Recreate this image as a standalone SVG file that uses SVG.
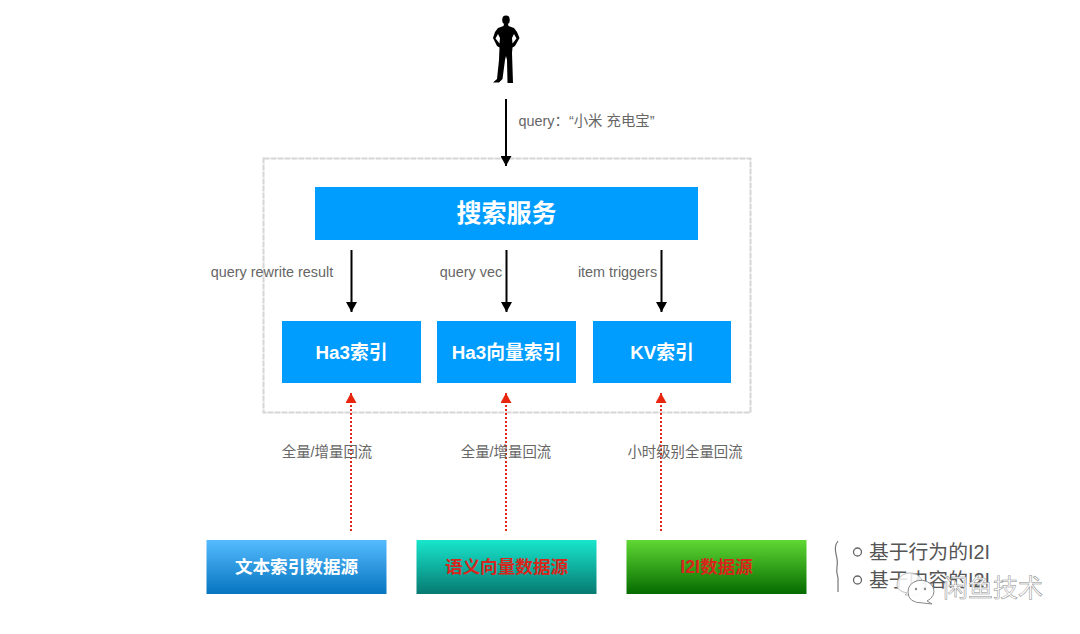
<svg xmlns="http://www.w3.org/2000/svg" width="1080" height="634" viewBox="0 0 1080 634">
<style>
text{font-family:"Liberation Sans","Noto Sans CJK SC",sans-serif;text-anchor:middle}
.lbl{font-size:14.4px;fill:#666}
.blue{fill:#009dff}
.h{font-size:18.8px;font-weight:bold;fill:#fff}
.s{font-size:17.6px;font-weight:bold}
.k{stroke:#000;stroke-width:2;fill:none;marker-end:url(#ka)}
.r{stroke:#e0281a;stroke-width:2;stroke-dasharray:2 2;fill:none;marker-end:url(#ra)}
.li{font-size:19.8px;fill:#555;text-anchor:start}
.wm{font-size:25px;fill:#fff;stroke:#8a8a8a;stroke-width:.5;text-anchor:start}
</style>
<defs>
<marker id="ka" markerUnits="userSpaceOnUse" markerWidth="11" markerHeight="11" refX="10" refY="5.500" orient="auto"><path d="M0 0L10 5.500L0 11Z" fill="#000"/></marker>
<marker id="ra" markerUnits="userSpaceOnUse" markerWidth="11" markerHeight="11" refX="10" refY="5.500" orient="auto"><path d="M0 0L10 5.500L0 11Z" fill="#e8260f"/></marker>
<linearGradient id="g1" x1="0" y1="0" x2="0" y2="1"><stop offset="0" stop-color="#55bbff"/><stop offset="1" stop-color="#0675bf"/></linearGradient>
<linearGradient id="g2" x1="0" y1="0" x2="0" y2="1"><stop offset="0" stop-color="#18e6cc"/><stop offset="1" stop-color="#077a72"/></linearGradient>
<linearGradient id="g3" x1="0" y1="0" x2="0" y2="1"><stop offset="0" stop-color="#60d834"/><stop offset="1" stop-color="#056b00"/></linearGradient>
</defs>
<g id="person" fill="#000">
<ellipse cx="506" cy="20" rx="3.800" ry="4.400"/>
<path fill-rule="evenodd" d="M504 24L508 24L508.500 26L514 28L517 32L519.500 38L515 46L512.500 47.500L512 53L513 83L507.500 83L507 60L506 56L505 60L502.500 79L499 82.500L493 82.500L497 79L499 60L499.500 47.500L497 46L493 38L495 32L498 28L503.500 26ZM498 34L495.500 38.500L499.500 43.500L500 38ZM514 34L516.500 38.500L512.500 43.500L512 38Z"/>
</g>
<g id="container"><rect x="263.500" y="158.500" width="487" height="254" fill="#fff" stroke="#d6d6d6" stroke-width="2" stroke-dasharray="6 1"/></g>
<g id="search"><rect class="blue" x="315" y="187" width="383" height="53"/><text x="506.500" y="222" font-size="25" font-weight="bold" fill="#fff">搜索服务</text></g>
<g id="ha3"><rect class="blue" x="282" y="321" width="139" height="62"/><text class="h" x="351.500" y="359">Ha3索引</text></g>
<g id="ha3vec"><rect class="blue" x="437" y="321" width="139" height="62"/><text class="h" x="506.500" y="359">Ha3向量索引</text></g>
<g id="kv"><rect class="blue" x="593" y="321" width="138" height="62"/><text class="h" x="662" y="359">KV索引</text></g>
<g id="src1"><rect x="206.500" y="540" width="180" height="54" fill="url(#g1)"/><text class="s" x="296.500" y="572.500" fill="#fff">文本索引数据源</text></g>
<g id="src2"><rect x="416.500" y="540" width="180" height="54" fill="url(#g2)"/><text class="s" x="506.500" y="572.500" fill="#d8261c">语义向量数据源</text></g>
<g id="src3"><rect x="626.500" y="540" width="180" height="54" fill="url(#g3)"/><text class="s" x="716.500" y="572.500" fill="#d8261c">I2I数据源</text></g>
<g id="connectors">
<path class="k" d="M506 99V166"/>
<path class="k" d="M351.500 250V312"/>
<path class="k" d="M506.500 250V312"/>
<path class="k" d="M661.500 250V312"/>
<path class="r" d="M351 531V393"/>
<path class="r" d="M506 531V393"/>
<path class="r" d="M661 531V393"/>
</g>
<g id="labels">
<text class="lbl" x="586.500" y="126">query：“小米 充电宝”</text>
<text class="lbl" x="272" y="277">query rewrite result</text>
<text class="lbl" x="471" y="277">query vec</text>
<text class="lbl" x="617.500" y="277">item triggers</text>
<text class="lbl" x="327" y="457">全量/增量回流</text>
<text class="lbl" x="506" y="457">全量/增量回流</text>
<text class="lbl" x="685" y="457">小时级别全量回流</text>
</g>
<g id="notes">
<path d="M838 541Q834 546 836 554Q838 562 837 566Q836 572 838 578Q838 588 838 592" fill="none" stroke="#777" stroke-width="1.200"/>
<circle cx="857.500" cy="552" r="4" fill="none" stroke="#666" stroke-width="1.300"/>
<circle cx="857.500" cy="580" r="4" fill="none" stroke="#666" stroke-width="1.300"/>
<text class="li" x="869" y="559">基于行为的I2I</text>
<text class="li" x="869" y="587">基于内容的I2I</text>
</g>
<g id="watermark">
<path d="M897 585a13 12 0 1 1 20 10l-3 0-9 0 2-2q-10-2-10-8Z" fill="#fff" fill-opacity=".85" stroke="#aaa" stroke-width=".8"/>
<path d="M908 592a13 11 0 1 1 19 9l5 3-9-1q-15 0-15-11Z" fill="#fff" fill-opacity=".9" stroke="#8a8a8a" stroke-width="1"/>
<circle cx="916" cy="589" r="1.200" fill="#8a8a8a"/>
<circle cx="925" cy="589" r="1.200" fill="#8a8a8a"/>
<text class="wm" x="943" y="597">闲鱼技术</text>
</g>
</svg>
